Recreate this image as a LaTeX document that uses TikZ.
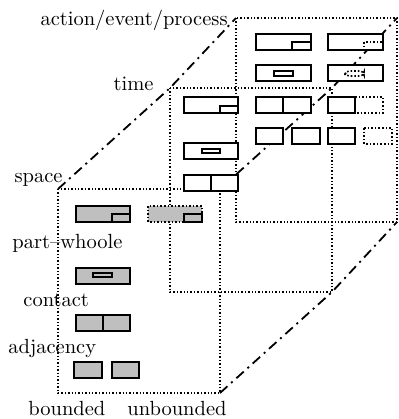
\documentclass[tikz,border=0pt]{standalone}
\begin{document}
\begin{tikzpicture}
	[
	x=0.5pt, y=-0.5pt, font=\fontsize{10.25}{12}\selectfont,
	%Stile
	rahmen/.style={densely dotted, line width=0.7pt},
	diag/.style={dash pattern=on 5pt off 2.5pt on 1pt off 2.5pt, line width=0.9pt},
	kasten/.style={draw, line width=0.9pt, fill=white},
	grau/.style={kasten, fill=black!25},
	offen/.style={draw, densely dotted, line width=0.8pt},
	lbl/.style={inner sep=0pt}
	]
	\fill[white] (0,0) rectangle (398,419);
	\useasboundingbox (0,0) rectangle (398,419);
	%Ecken der Rahmen
	\coordinate (sp-tl) at (58,189); \coordinate (sp-br) at (220,393);
	\coordinate (sp-tr) at (220,189);
	\coordinate (ti-tl) at (170,88); \coordinate (ti-br) at (332,292);
	\coordinate (ti-tr) at (332,88);
	\coordinate (ac-tl) at (236,18); \coordinate (ac-br) at (397,222);
	\coordinate (ac-tr) at (397,18);
	%Rahmen
	\draw[rahmen] (sp-tl) rectangle (sp-br);
	\draw[rahmen] (ti-tl) rectangle (ti-br);
	\draw[rahmen] (ac-tl) rectangle (ac-br);
	%Diagonalen
	\draw[diag] (sp-tl) -- (ti-tl) -- (ac-tl);
	\draw[diag] (sp-tr) -- (ti-tr) -- (ac-tr);
	\draw[diag] (sp-br) -- (ti-br) -- (ac-br);
	%action/event/process
	\begin{scope}[shift={(236,18)}]
		\draw[kasten] (20,16) rectangle (75,32);
		\draw[kasten] (56,24) rectangle (75,32);
		\draw[kasten] (92,16) rectangle (147,32);
		\draw[offen] (128,24) rectangle (147,32);
		\draw[kasten] (20,47) rectangle (75,63);
		\draw[kasten] (38,53) rectangle (57,58);
		\draw[kasten] (92,47) rectangle (147,63);
		\draw[offen, rounded corners=2pt] (109,53) rectangle (128,58);
		\draw[kasten] (20,79) rectangle (75,95);
		\draw[line width=0.9pt] (47,79) -- (47,95);
		\draw[offen, fill=white] (119,79) rectangle (147,95);
		\draw[kasten] (92,79) rectangle (119,95);
		\draw[kasten] (20,110) rectangle (47,126);
		\draw[kasten] (56,110) rectangle (84,126);
		\draw[kasten] (92,110) rectangle (119,126);
		\draw[offen, fill=white] (128,110) rectangle (156,126);
	\end{scope}
	%time
	\begin{scope}[shift={(170,88)}]
		\draw[kasten] (14,9) rectangle (68,25);
		\draw[kasten] (50,18) rectangle (68,25);
		\draw[kasten] (14,55) rectangle (68,71);
		\draw[kasten] (32,61) rectangle (50,65);
		\draw[kasten] (14,87) rectangle (68,103);
		\draw[line width=0.9pt] (41,87) -- (41,103);
	\end{scope}
	%space
	\begin{scope}[shift={(58,189)}]
		\draw[grau] (18,17) rectangle (72,33);
		\draw[grau] (54,25) rectangle (72,33);
		\draw[offen, fill=black!25] (90,17) rectangle (144,33);
		\draw[grau] (126,25) rectangle (144,33);
		\draw[grau] (18,79) rectangle (72,95);
		\draw[grau] (35,84) rectangle (54,88);
		\draw[grau] (18,126) rectangle (72,142);
		\draw[line width=0.9pt] (45,126) -- (45,142);
		\draw[grau] (16,173) rectangle (44,189);
		\draw[grau] (54,173) rectangle (81,189);
	\end{scope}
	%Beschriftung
	\node[lbl, anchor=base east] (l-ac) at (228,25) {action/event/process};
	\node[lbl, anchor=base east] (l-ti) at (154,90) {time};
	\node[lbl, anchor=base east] (l-sp) at (63,182) {space};
	\node[lbl, anchor=base west] (l-pw) at (12,248) {part--whoole};
	\node[lbl, anchor=base west] (l-co) at (23,306) {contact};
	\node[lbl, anchor=base west] (l-ad) at (8,353) {adjacency};
	\node[lbl, anchor=base west] (l-bo) at (28,415) {bounded};
	\node[lbl, anchor=base west] (l-un) at (127,415) {unbounded};
\end{tikzpicture}
\end{document}
